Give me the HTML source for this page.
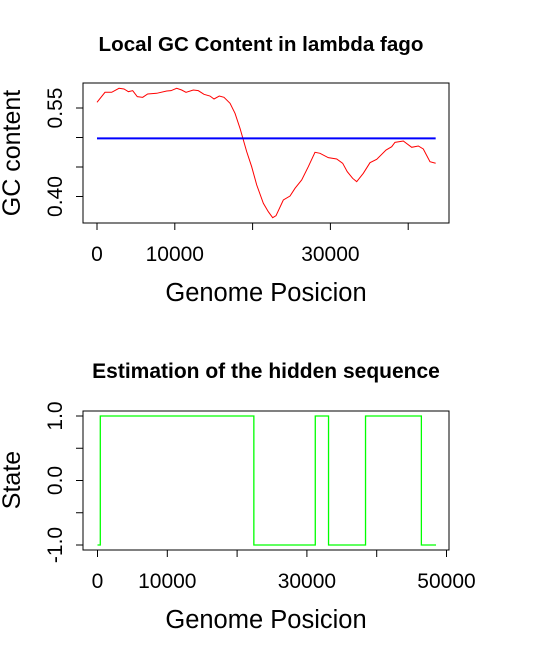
<!DOCTYPE html>
<html><head><meta charset="utf-8"><style>
body{margin:0;background:#fff}
svg{display:block;font-family:"Liberation Sans",Arial,sans-serif}
</style></head><body>
<svg id="c" width="533" height="655" xmlns="http://www.w3.org/2000/svg">
<rect width="533" height="655" fill="#fff"/>
</svg>
<script>
const gcPos=[0,1030,1890,2830,3470,4030,4590,5180,5870,6510,7670,8960,9510,10240,10880,11440,12380,13020,13750,14520,15040,15720,16320,17100,17740,18380,19240,19880,20530,21380,22020,22580,23010,23950,24810,25450,26310,27160,28020,28660,29730,30810,31580,32170,32860,33380,34230,35090,35950,37150,37880,38300,39370,40450,41300,41940,42800,43530];
const gcVal=[0.5597,0.5766,0.5766,0.5834,0.5822,0.5777,0.5794,0.5692,0.5681,0.5737,0.5749,0.5788,0.5794,0.5834,0.5805,0.5766,0.5805,0.5794,0.5732,0.5703,0.5653,0.5703,0.5681,0.5580,0.5410,0.5156,0.4760,0.4505,0.4195,0.3885,0.3742,0.3641,0.3675,0.3941,0.4008,0.4139,0.4280,0.4505,0.4749,0.4732,0.4658,0.4636,0.4563,0.4420,0.4308,0.4251,0.4393,0.4573,0.4630,0.4788,0.4844,0.4918,0.4941,0.4834,0.4856,0.4805,0.4590,0.4563];
const gcMean=0.4985;
const stateBreaks=[0,400,22400,31200,33100,38400,46400,48500];
const stateVals=[-1,1,-1,1,-1,1,-1];
const topXTicks=[0,10000,20000,30000,40000];
const topXLabels=["0","10000","","30000",""];
const topYTicks=[0.40,0.45,0.50,0.55];
const topYLabels=["0.40","","","0.55"];
const botXTicks=[0,10000,20000,30000,40000,50000];
const botXLabels=["0","10000","","30000","","50000"];
const botYTicks=[-1,-0.5,0,0.5,1];
const botYLabels=["-1.0","","0.0","","1.0"];

const NS="http://www.w3.org/2000/svg";
const svg=document.getElementById('c');
function mk(tag,attrs,parent){const e=document.createElementNS(NS,tag);for(const k in attrs)e.setAttribute(k,attrs[k]);(parent||svg).appendChild(e);return e;}
function txt(s,x,y,size,opts,name){const t=mk('text',Object.assign({x:x,y:y,'font-size':size,'text-anchor':'middle',fill:'#000'},opts||{}));t.textContent=s;


return t;}

const tx=v=>97+v*0.00778;
const ty=v=>108+(0.55-v)/0.05*29.5;
const bx=v=>97.5+v*0.00698;
const by=v=>416+(1-v)/2*129;

function panel(box,xs,xTicks,xLabels,ys,yTicks,yLabels,title,titleX,titleY,titleSize,xTitleY,yTitle,yTitleY,prefix){
  const r=mk('rect',{x:box[0],y:box[1],width:box[2]-box[0],height:box[3]-box[1],fill:'none',stroke:'#000','stroke-width':1});
  
  
  xTicks.forEach((v,i)=>{
    const l=mk('line',{x1:xs(v),x2:xs(v),y1:box[3],y2:box[3]+7,stroke:'#000'});
    
    
    if(xLabels[i])txt(xLabels[i],xs(v),box[3]+38,21,{},prefix+'-x-tick-label');
  });
  yTicks.forEach((v,i)=>{
    const l=mk('line',{x1:box[0]-7,x2:box[0],y1:ys(v),y2:ys(v),stroke:'#000'});
    
    
    if(yLabels[i])txt(yLabels[i],box[0]-21,ys(v),21,{transform:'rotate(-90 '+(box[0]-21)+' '+ys(v)+')'},prefix+'-y-tick-label');
  });
  txt(title,titleX,titleY,titleSize,{'font-weight':'bold'},prefix+'-title');
  txt('Genome Posicion',266,xTitleY,25.5,{},prefix+'-x-axis-title');
  txt(yTitle,20,yTitleY,25,{transform:'rotate(-90 20 '+yTitleY+')'},prefix+'-y-axis-title');
}
panel([83,83,449,223],tx,topXTicks,topXLabels,ty,topYTicks,topYLabels,'Local GC Content in lambda fago',261,51,20.6,301,'GC content',153,'top');
panel([83,411,449,550],bx,botXTicks,botXLabels,by,botYTicks,botYLabels,'Estimation of the hidden sequence',266,378,21,628,'State',480,'bottom');

const gcLine=mk('polyline',{points:gcPos.map((p,i)=>tx(p)+','+ty(gcVal[i])).join(' '),fill:'none',stroke:'#ff0000','stroke-width':1});


const meanLine=mk('line',{x1:tx(gcPos[0]),x2:tx(gcPos[gcPos.length-1]),y1:ty(gcMean),y2:ty(gcMean),stroke:'#0000ff','stroke-width':2});



let pts=[];
stateVals.forEach((s,i)=>{pts.push(bx(stateBreaks[i])+','+by(s));pts.push(bx(stateBreaks[i+1])+','+by(s));});
const st=mk('polyline',{points:pts.join(' '),fill:'none',stroke:'#00ff00','stroke-width':1.3});


</script>
</body></html>
